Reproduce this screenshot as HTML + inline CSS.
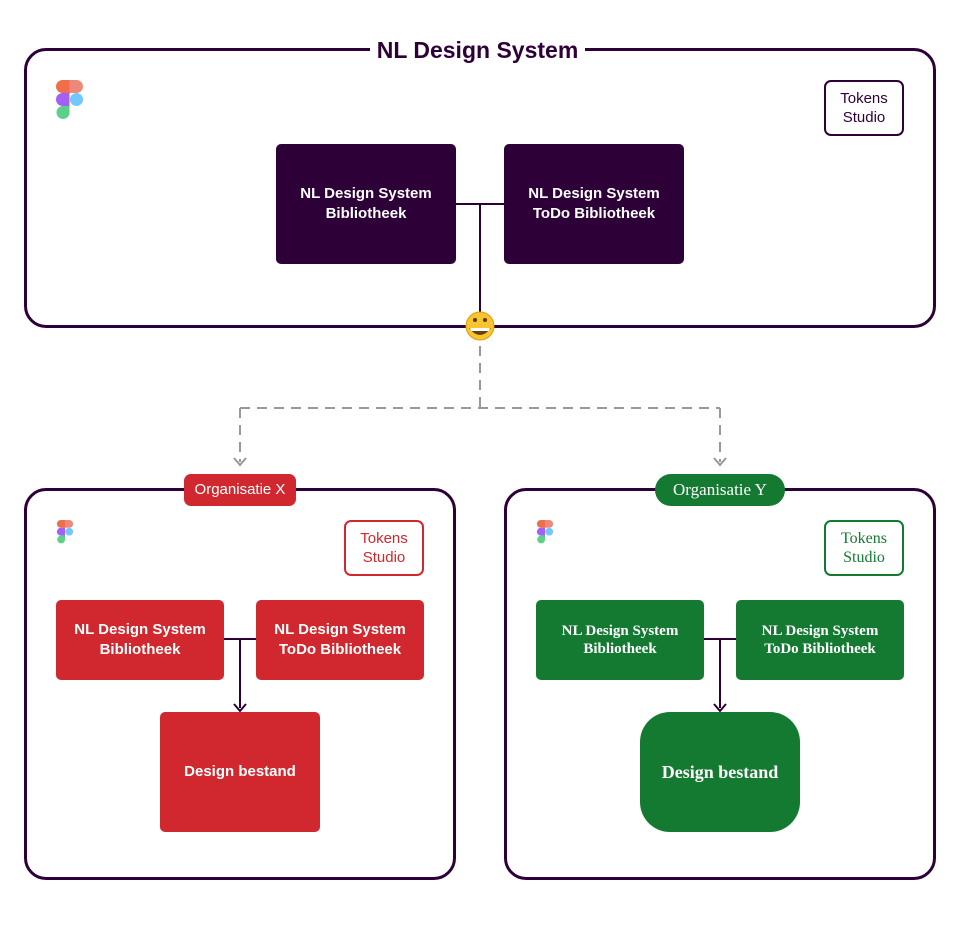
<!DOCTYPE html>
<html><head><meta charset="utf-8"><style>
body{margin:0;width:960px;height:928px;background:#fff;position:relative;overflow:hidden;font-family:"Liberation Sans",sans-serif}
.a{position:absolute;box-sizing:border-box}
.frame{border:3px solid #2d0038;border-radius:22px}
.node{display:flex;align-items:center;justify-content:center;text-align:center;color:#fff;font-weight:bold;font-size:14px;line-height:20px;border-radius:5px}
.tok{display:flex;align-items:center;justify-content:center;text-align:center;font-size:15px;line-height:19px;border:2px solid;border-radius:7px;background:#fff}
.serif{font-family:"Liberation Serif",serif}
</style></head><body>
<div class="a frame" style="left:24px;top:48px;width:912px;height:280px"></div>
<div class="a" style="left:370px;top:34px;width:215px;height:32px;background:#fff;text-align:center;font-weight:bold;font-size:23px;line-height:32px;color:#2d0038">NL Design System</div>
<div class="a frame" style="left:24px;top:488px;width:432px;height:392px"></div>
<div class="a frame" style="left:504px;top:488px;width:432px;height:392px"></div>

<svg class="a" style="left:0;top:0" width="960" height="928">
<defs>
<g id="fig">
<path d="M62.5 80H69.5V93H62.5A6.5 6.5 0 0 1 62.5 80Z" fill="#f06e4a"/>
<path d="M69.5 80H76.5A6.5 6.5 0 0 1 76.5 93H69.5Z" fill="#f0887a"/>
<path d="M62.5 93H69.5V106H62.5A6.5 6.5 0 0 1 62.5 93Z" fill="#a460f5"/>
<circle cx="76.5" cy="99.5" r="6.5" fill="#70c8ff"/>
<path d="M62.5 106H69.5V112.5A6.5 6.5 0 1 1 62.5 106Z" fill="#5ccf8a"/>
</g>
</defs>
<use href="#fig"/>
<g fill="none" stroke="#2d0038" stroke-width="2">
<path d="M456 204H504M480 204V312"/>
<path d="M224 639H256M240 639V708"/>
<path d="M704 639H736M720 639V708"/>
</g>
<path d="M234 704L240 711L246 704" fill="none" stroke="#2d0038" stroke-width="2"/>
<path d="M714 704L720 711L726 704" fill="none" stroke="#2d0038" stroke-width="2"/>
<path d="M480 346V408M240 408H720M240 408V462M720 408V462" fill="none" stroke="#999" stroke-width="2" stroke-dasharray="10 7"/>
<path d="M234 458L240 465L246 458M714 458L720 465L726 458" fill="none" stroke="#999" stroke-width="2"/>
<circle cx="480" cy="326" r="14" fill="#f7c530" stroke="#e09a10" stroke-width="1"/>
<circle cx="475" cy="320" r="2" fill="#5a3a10"/><circle cx="485" cy="320" r="2" fill="#5a3a10"/>
<path d="M469 328Q480 342 491 328Z" fill="#6b3d12"/><path d="M470 328H490L489 331H471Z" fill="#fff"/>
</svg>
<svg class="a" style="left:56px;top:520px" width="18" height="24" viewBox="56 80 27 40"><use href="#fig"/></svg>
<svg class="a" style="left:536px;top:520px" width="18" height="24" viewBox="56 80 27 40"><use href="#fig"/></svg>

<div class="a tok" style="left:824px;top:80px;width:80px;height:56px;border-color:#2d0038;color:#2d0038">Tokens<br>Studio</div>
<div class="a node" style="left:276px;top:144px;width:180px;height:120px;background:#2d0038;font-size:15px">NL Design System<br>Bibliotheek</div>
<div class="a node" style="left:504px;top:144px;width:180px;height:120px;background:#2d0038;font-size:15px">NL Design System<br>ToDo Bibliotheek</div>

<div class="a" style="left:184px;top:474px;width:112px;height:32px;background:#d0282e;border-radius:7px;color:#fff;font-size:15px;line-height:32px;text-align:center">Organisatie X</div>
<div class="a tok" style="left:344px;top:520px;width:80px;height:56px;border-color:#d0282e;color:#d0282e">Tokens<br>Studio</div>
<div class="a node" style="left:56px;top:600px;width:168px;height:80px;background:#d0282e;font-size:15px">NL Design System<br>Bibliotheek</div>
<div class="a node" style="left:256px;top:600px;width:168px;height:80px;background:#d0282e;font-size:15px">NL Design System<br>ToDo Bibliotheek</div>
<div class="a node" style="left:160px;top:712px;width:160px;height:120px;background:#d0282e;font-size:15px">Design bestand</div>

<div class="a serif" style="left:655px;top:474px;width:130px;height:32px;background:#147a31;border-radius:16px;color:#fff;font-size:17px;line-height:32px;text-align:center">Organisatie Y</div>
<div class="a tok serif" style="left:824px;top:520px;width:80px;height:56px;border-color:#147a31;color:#147a31;font-size:16px">Tokens<br>Studio</div>
<div class="a node serif" style="left:536px;top:600px;width:168px;height:80px;background:#147a31;font-size:15px;line-height:18px">NL Design System<br>Bibliotheek</div>
<div class="a node serif" style="left:736px;top:600px;width:168px;height:80px;background:#147a31;font-size:15px;line-height:18px">NL Design System<br>ToDo Bibliotheek</div>
<div class="a node serif" style="left:640px;top:712px;width:160px;height:120px;background:#147a31;font-size:18px;border-radius:30px">Design bestand</div>
</body></html>
